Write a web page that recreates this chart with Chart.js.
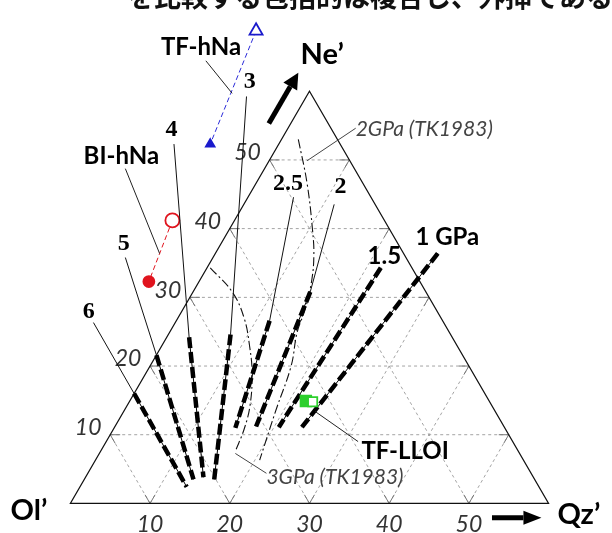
<!DOCTYPE html>
<html lang="ja">
<head>
<meta charset="utf-8">
<title>Ol'–Ne'–Qz' projection</title>
<script src="https://cdn.jsdelivr.net/npm/chart.js@4.4.1/dist/chart.umd.min.js"></script>
<style>
  html, body { margin: 0; padding: 0; background: #fff; overflow: hidden; }
  #box { width: 612px; height: 533px; }
  canvas { display: block; }
</style>
</head>
<body>
<div id="box"><canvas id="chart" width="612" height="533"></canvas></div>
<script>
// Compositions are given as [Qz', Ne'] in %, with Ol' = 100 - Qz' - Ne'.
const axisTicks = [10, 20, 30, 40, 50];
const axisSpan = 60;

// Isobaric trends (GPa): upper and lower end of each fitted segment
const isobarNames    = ['1 GPa', '1.5', '2', '2.5', '3', '4', '5', '6'];
const isobarTopQz    = [27.9, 21.8, 14.7, 11.7, 7.8, 2.8, 0.0, 0.0];
const isobarTopNe    = [36.4, 34.3, 30.8, 26.6, 24.6, 24.2, 21.6, 16.0];
const isobarBottomQz = [23.5, 20.6, 17.7, 15.2, 16.3, 14.8, 13.7, 13.4];
const isobarBottomNe = [11.1, 11.1, 11.2, 11.0, 3.5, 3.8, 3.5, 2.4];

// TK1983 boundaries at 2 and 3 GPa
const tk2Qz = [2.1, 6.4, 10.6, 12.5, 14.0, 15.3, 16.0, 17.7, 19.0, 20.6];
const tk2Ne = [53.0, 46.6, 39.6, 36.1, 32.6, 28.4, 24.9, 20.0, 13.6, 6.3];
const tk3Qz = [0.4, 4.9, 8.3, 11.1, 13.3, 15.4, 16.4, 16.9];
const tk3Ne = [34.3, 30.8, 27.0, 22.8, 19.0, 14.3, 10.8, 7.6];

// Starting materials
const tfHNaQz  = [-11.1, -8.6];   // open, filled
const tfHNaNe  = [68.8, 52.3];
const biHNaQz  = [-7.8, -6.3];    // open, filled
const biHNaNe  = [41.2, 32.3];
const tfLLOIQz = [22.1, 23.0];    // filled, open
const tfLLOINe = [14.9, 14.8];

// ---- annotation layout (plot units: x along Qz', y vertical, same scale) ----
const layout = {
  isobarLabel:  [[47.3, 33.5], [39.4, 31.1], [33.9, 39.9], [27.3, 40.3], [22.5, 53.2], [12.7, 47.1], [6.7, 32.7], [2.3, 24.2]],
  isobarLeader: [null, null, [33.1, 37.7], [28.0, 38.6], [22.1, 51.3], [13.0, 45.3], [6.9, 31.0], [2.9, 22.8]],
  isobarFont:   ['sans', 'sans', 'serif', 'serif', 'serif', 'serif', 'serif', 'serif'],
  tfHNa:  { text: 'TF-hNa',  at: [16.4, 57.5], leader: [[17.0, 55.8], [20.3, 51.7]] },
  biHNa:  { text: 'BI-hNa',  at: [6.4, 43.8],  leader: [[6.9, 42.2], [11.2, 31.5]] },
  tfLLOI: { text: 'TF-LLOI', at: [42.0, 6.6],  leader: [[30.7, 11.6], [36.1, 7.8]] },
  tk2:    { text: '2GPa (TK1983)', at: [44.4, 47.2], leader: [[35.8, 47.3], [29.7, 43.2]] },
  tk3:    { text: '3GPa (TK1983)', at: [33.2, 3.3],  leader: [[20.7, 6.3], [24.6, 3.8]] },
  ne:     { text: 'Ne\u2019', at: [31.6, 56.6], arrow: [[24.9, 47.9], [28.6, 54.3]] },
  qz:     { text: 'Qz\u2019', at: [63.8, -1.4], arrow: [[52.9, -1.8], [59.1, -1.8]] },
  ol:     { text: 'Ol\u2019', at: [-5.2, -0.9] },
  header: '\u3092\u6bd4\u8f03\u3059\u308b\u5305\u62ec\u7684\u306f\u8907\u5408\u3057\u3001\u5916\u633f\u3067\u3042\u308b\u304b'
};

const H = Math.sqrt(3) / 2;
const tern = (qz, ne) => ({ x: qz + ne / 2, y: ne * H });
const series = (qz, ne) => qz.map((q, i) => tern(q, ne[i]));
const plotPt = (p) => ({ x: p[0], y: p[1] });

const FONTS = {
  serif: 'bold 24px "Liberation Serif"',
  sans: 'bold 24px Lato',
  tick: 'italic 23px Lato',
  note: 'italic 21px Lato',
  apex: 'bold 29px Lato'
};

// ---- datasets ----
const datasets = [];
const lineBase = { showLine: true, pointRadius: 0, fill: false, borderCapStyle: 'butt', tension: 0 };

isobarNames.forEach((name, i) => {
  const seg = [tern(isobarTopQz[i], isobarTopNe[i]), tern(isobarBottomQz[i], isobarBottomNe[i])];
  datasets.push({ ...lineBase, label: name + ' trend', data: seg, borderColor: '#000', borderWidth: 4.5,
                  borderDash: [11, 4], order: 5 });
  datasets.push({ ...lineBase, label: name, data: seg, borderColor: '#000', borderWidth: 1, order: 6 });
});

datasets.push({ ...lineBase, label: '2GPa (TK1983)', data: series(tk2Qz, tk2Ne), borderColor: '#111',
                borderWidth: 1.1, borderDash: [9, 3, 2, 3], tension: 0.4, order: 7 });
datasets.push({ ...lineBase, label: '3GPa (TK1983)', data: series(tk3Qz, tk3Ne), borderColor: '#111',
                borderWidth: 1.1, borderDash: [9, 3, 2, 3], tension: 0.4, order: 7 });

datasets.push({ showLine: true, label: 'TF-hNa', data: series(tfHNaQz, tfHNaNe), borderColor: '#2b2bd9',
                borderWidth: 1, borderDash: [5, 3], pointStyle: 'triangle', pointRadius: [7.5, 5],
                pointBackgroundColor: ['#fff', '#1a1acc'], pointBorderColor: '#1a1acc', pointBorderWidth: 1.8, order: 1 });
datasets.push({ showLine: true, label: 'BI-hNa', data: series(biHNaQz, biHNaNe), borderColor: '#e0141e',
                borderWidth: 1, borderDash: [5, 3], pointStyle: 'circle', pointRadius: [7, 5.5],
                pointBackgroundColor: ['#fff', '#e0141e'], pointBorderColor: '#e0141e', pointBorderWidth: 1.8, order: 1 });
datasets.push({ showLine: true, label: 'TF-LLOI', data: series(tfLLOIQz, tfLLOINe), borderColor: '#22c022',
                borderWidth: 1, borderDash: [3, 2], pointStyle: 'rect', pointRadius: [7.5, 6.5],
                pointBackgroundColor: ['#2ccf2c', '#fff'], pointBorderColor: '#2ccf2c', pointBorderWidth: 1.8, order: 1 });

// ---- drawing helpers ----
function toPx(chart, p) {
  return { x: chart.scales.x.getPixelForValue(p.x), y: chart.scales.y.getPixelForValue(p.y) };
}
function line(ctx, a, b) {
  ctx.beginPath(); ctx.moveTo(a.x, a.y); ctx.lineTo(b.x, b.y); ctx.stroke();
}
function text(ctx, str, p, font, color, align) {
  ctx.font = font; ctx.fillStyle = color; ctx.textAlign = align || 'center'; ctx.textBaseline = 'middle';
  ctx.fillText(str, p.x, p.y);
}
function arrow(ctx, a, b, width, headLen, headHalf) {
  const ang = Math.atan2(b.y - a.y, b.x - a.x);
  const base = { x: b.x - headLen * Math.cos(ang), y: b.y - headLen * Math.sin(ang) };
  ctx.lineWidth = width; ctx.strokeStyle = '#000'; ctx.lineCap = 'butt';
  line(ctx, a, base);
  ctx.beginPath();
  ctx.moveTo(b.x, b.y);
  ctx.lineTo(base.x + headHalf * Math.sin(ang), base.y - headHalf * Math.cos(ang));
  ctx.lineTo(base.x - headHalf * Math.sin(ang), base.y + headHalf * Math.cos(ang));
  ctx.closePath(); ctx.fillStyle = '#000'; ctx.fill();
}

const ternaryFrame = {
  id: 'ternaryFrame',
  beforeDatasetsDraw(chart) {
    const ctx = chart.ctx;
    ctx.save();
    const gridLines = [];
    axisTicks.forEach(k => {
      gridLines.push([tern(0, k), tern(axisSpan - k, k)]);   // constant Ne'
      gridLines.push([tern(k, 0), tern(k, axisSpan - k)]);   // constant Qz'
      gridLines.push([tern(k, 0), tern(0, k)]);              // constant Ol'
    });
    ctx.strokeStyle = '#9a9a9a'; ctx.lineWidth = 0.9; ctx.setLineDash([3, 3]);
    gridLines.forEach(([a, b]) => line(ctx, toPx(chart, a), toPx(chart, b)));
    ctx.setLineDash([]); ctx.strokeStyle = '#777'; ctx.lineWidth = 1;
    gridLines.forEach(([a, b]) => {
      const pa = toPx(chart, a), pb = toPx(chart, b);
      const len = Math.hypot(pb.x - pa.x, pb.y - pa.y), t = 10 / len;
      line(ctx, pa, { x: pa.x + (pb.x - pa.x) * t, y: pa.y + (pb.y - pa.y) * t });
      line(ctx, pb, { x: pb.x + (pa.x - pb.x) * t, y: pb.y + (pa.y - pb.y) * t });
    });
    // triangle outline
    const c = [tern(0, 0), tern(axisSpan, 0), tern(0, axisSpan)].map(p => toPx(chart, p));
    ctx.strokeStyle = '#111'; ctx.lineWidth = 1.2;
    ctx.beginPath(); ctx.moveTo(c[0].x, c[0].y); ctx.lineTo(c[1].x, c[1].y); ctx.lineTo(c[2].x, c[2].y);
    ctx.closePath(); ctx.stroke();
    // tick labels
    axisTicks.forEach(k => {
      const l = toPx(chart, tern(0, k));
      text(ctx, String(k), { x: l.x - 22, y: l.y - 7 }, FONTS.tick, '#333');
      const b = toPx(chart, tern(k, 0));
      text(ctx, String(k), { x: b.x, y: b.y + 21 }, FONTS.tick, '#333');
    });
    ctx.restore();
  },
  afterDatasetsDraw(chart) {
    const ctx = chart.ctx;
    ctx.save();
    ctx.strokeStyle = '#111'; ctx.lineWidth = 1;
    // isobar labels and their leaders
    isobarNames.forEach((name, i) => {
      const lead = layout.isobarLeader[i];
      if (lead) line(ctx, toPx(chart, plotPt(lead)), toPx(chart, tern(isobarTopQz[i], isobarTopNe[i])));
      text(ctx, name, toPx(chart, plotPt(layout.isobarLabel[i])), FONTS[layout.isobarFont[i]], '#000');
    });
    // sample labels
    ['tfHNa', 'biHNa', 'tfLLOI'].forEach(key => {
      const s = layout[key];
      ctx.strokeStyle = '#222'; ctx.lineWidth = 1;
      line(ctx, toPx(chart, plotPt(s.leader[0])), toPx(chart, plotPt(s.leader[1])));
      text(ctx, s.text, toPx(chart, plotPt(s.at)), FONTS.sans, '#000');
    });
    ['tk2', 'tk3'].forEach(key => {
      const s = layout[key];
      ctx.strokeStyle = '#444'; ctx.lineWidth = 1;
      line(ctx, toPx(chart, plotPt(s.leader[0])), toPx(chart, plotPt(s.leader[1])));
      text(ctx, s.text, toPx(chart, plotPt(s.at)), FONTS.note, '#444');
    });
    // apex labels and direction arrows
    arrow(ctx, toPx(chart, plotPt(layout.ne.arrow[0])), toPx(chart, plotPt(layout.ne.arrow[1])), 5, 16, 8);
    arrow(ctx, toPx(chart, plotPt(layout.qz.arrow[0])), toPx(chart, plotPt(layout.qz.arrow[1])), 5, 18, 7);
    text(ctx, layout.ne.text, toPx(chart, plotPt(layout.ne.at)), FONTS.apex, '#000');
    text(ctx, layout.qz.text, toPx(chart, plotPt(layout.qz.at)), FONTS.apex, '#000');
    text(ctx, layout.ol.text, toPx(chart, plotPt(layout.ol.at)), FONTS.apex, '#000');
    // running heading above the figure
    ctx.font = 'bold 27px "Noto Sans CJK JP"'; ctx.fillStyle = '#111';
    ctx.textAlign = 'left'; ctx.textBaseline = 'alphabetic';
    ctx.fillText(layout.header, 127, 7);
    ctx.restore();
  }
};

new Chart(document.getElementById('chart'), {
  type: 'scatter',
  data: { datasets },
  options: {
    responsive: false,
    devicePixelRatio: 1,
    animation: false,
    events: [],
    layout: { padding: 0 },
    plugins: { legend: { display: false }, tooltip: { enabled: false } },
    scales: {
      x: { type: 'linear', min: -7.66, max: 66.79, display: false },
      y: { type: 'linear', min: -2.555, max: 62.29, display: false }
    }
  },
  plugins: [ternaryFrame]
});
</script>
</body>
</html>
